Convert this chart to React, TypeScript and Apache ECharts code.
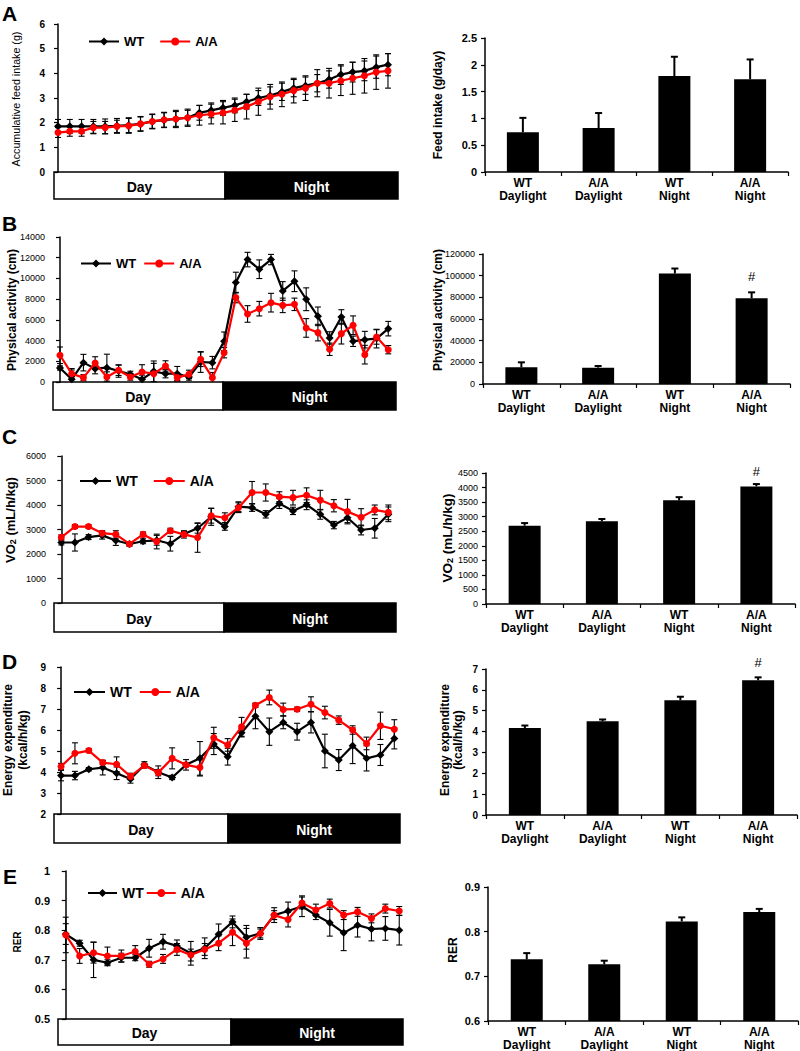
import React, { useEffect, useRef } from 'react';
import * as echarts from 'echarts';

const FONT = '"Liberation Sans", Arial, Helvetica, sans-serif';

// ---------- DATA ----------
// Panel A (time course, 29 points)
const feedWT = [1.85, 1.85, 1.85, 1.85, 1.85, 1.87, 1.9, 1.95, 2.05, 2.1, 2.15, 2.2, 2.4, 2.5, 2.6, 2.7, 2.85, 3.0, 3.1, 3.25, 3.4, 3.5, 3.6, 3.75, 3.95, 4.05, 4.1, 4.25, 4.35];
const feedWTErr = [0.28, 0.28, 0.28, 0.28, 0.3, 0.3, 0.3, 0.28, 0.28, 0.3, 0.3, 0.3, 0.3, 0.3, 0.3, 0.3, 0.3, 0.3, 0.35, 0.35, 0.35, 0.35, 0.35, 0.35, 0.4, 0.4, 0.4, 0.45, 0.45];
const feedAA = [1.6, 1.65, 1.65, 1.8, 1.8, 1.85, 1.87, 1.95, 2.05, 2.12, 2.15, 2.2, 2.3, 2.35, 2.4, 2.5, 2.65, 2.85, 3.05, 3.15, 3.3, 3.4, 3.6, 3.6, 3.7, 3.8, 3.9, 4.05, 4.1];
const feedAAErr = [0.2, 0.2, 0.2, 0.25, 0.25, 0.25, 0.3, 0.3, 0.3, 0.3, 0.35, 0.35, 0.4, 0.4, 0.45, 0.45, 0.5, 0.55, 0.5, 0.5, 0.5, 0.5, 0.55, 0.6, 0.6, 0.65, 0.7, 0.7, 0.7];

// Panel B (29 points)
const activityWT = [1350, 260, 1870, 1290, 1385, 1060, 740, 260, 1030, 800, 800, 480, 1930, 1870, 3930, 9600, 11820, 10890, 11820, 8790, 9730, 7990, 6340, 4250, 6280, 3930, 4090, 4190, 5150];
const activityWTErr = [200, 900, 800, 500, 1300, 600, 300, 400, 1000, 400, 700, 300, 1000, 600, 900, 1000, 700, 900, 500, 900, 1000, 1100, 900, 600, 700, 500, 800, 900, 700];
const activityAA = [2580, 800, 420, 1840, 480, 1130, 480, 970, 800, 1550, 420, 740, 2190, 420, 2830, 8150, 6570, 7080, 7660, 7400, 7500, 5220, 4770, 3160, 4670, 5480, 2640, 4350, 3120];
const activityAAErr = [800, 500, 300, 600, 500, 500, 300, 700, 1000, 500, 300, 400, 700, 500, 500, 500, 800, 700, 900, 700, 600, 900, 800, 600, 1000, 900, 900, 700, 400];

// Panel C (25 points)
const vo2WT = [2470, 2470, 2690, 2760, 2550, 2410, 2520, 2560, 2420, 2820, 3050, 3520, 3120, 3930, 3890, 3620, 4060, 3760, 4010, 3620, 3180, 3480, 2980, 3050, 3620];
const vo2WTErr = [100, 350, 100, 150, 200, 80, 100, 200, 300, 100, 200, 350, 150, 200, 150, 150, 200, 150, 200, 200, 150, 200, 200, 400, 300];
const vo2AA = [2680, 3120, 3120, 2850, 2800, 2410, 2800, 2510, 2950, 2800, 2670, 3560, 3480, 3890, 4510, 4510, 4340, 4300, 4400, 4200, 3970, 3730, 3500, 3800, 3700];
const vo2AAErr = [100, 80, 80, 100, 150, 80, 100, 300, 100, 150, 600, 300, 200, 200, 450, 350, 200, 300, 300, 400, 250, 500, 350, 200, 300];

// Panel D (25 points)
const eeWT = [3.83, 3.83, 4.13, 4.21, 3.94, 3.67, 4.34, 3.99, 3.74, 4.34, 4.65, 5.33, 4.73, 5.87, 6.66, 5.92, 6.36, 5.92, 6.36, 5.0, 4.57, 5.25, 4.65, 4.81, 5.6];
const eeWTErr = [0.25, 0.2, 0.08, 0.35, 0.3, 0.2, 0.15, 0.3, 0.1, 0.1, 0.8, 0.5, 0.4, 0.2, 0.6, 0.65, 0.3, 0.4, 0.5, 0.8, 0.5, 0.85, 0.6, 0.5, 0.5];
const eeAA = [4.26, 4.89, 5.02, 4.45, 4.37, 3.79, 4.31, 3.97, 4.65, 4.34, 4.21, 5.63, 5.29, 6.15, 7.18, 7.55, 6.98, 6.99, 7.23, 6.83, 6.47, 6.0, 5.36, 6.2, 6.04];
const eeAAErr = [0.15, 0.5, 0.1, 0.1, 0.35, 0.15, 0.1, 0.15, 0.5, 0.25, 0.4, 0.5, 0.3, 0.45, 0.1, 0.35, 0.3, 0.1, 0.35, 0.3, 0.2, 0.2, 0.3, 0.65, 0.45];

// Panel E (25 points)
const rerWT = [0.787, 0.756, 0.70, 0.69, 0.707, 0.707, 0.739, 0.761, 0.747, 0.722, 0.739, 0.786, 0.828, 0.776, 0.789, 0.851, 0.865, 0.881, 0.851, 0.825, 0.791, 0.817, 0.804, 0.806, 0.80];
const rerWTErr = [0.035, 0.01, 0.06, 0.01, 0.015, 0.01, 0.03, 0.025, 0.02, 0.04, 0.035, 0.035, 0.02, 0.04, 0.02, 0.025, 0.03, 0.035, 0.015, 0.045, 0.06, 0.04, 0.04, 0.04, 0.05];
const rerAA = [0.784, 0.713, 0.724, 0.713, 0.713, 0.728, 0.685, 0.703, 0.735, 0.716, 0.735, 0.756, 0.793, 0.756, 0.789, 0.851, 0.836, 0.892, 0.868, 0.89, 0.851, 0.862, 0.84, 0.873, 0.865];
const rerAAErr = [0.06, 0.025, 0.035, 0.03, 0.02, 0.02, 0.01, 0.015, 0.02, 0.02, 0.02, 0.025, 0.045, 0.05, 0.015, 0.015, 0.025, 0.02, 0.02, 0.015, 0.015, 0.015, 0.015, 0.015, 0.015];

// Bar panels
const barCategories = ['WT\nDaylight', 'A/A\nDaylight', 'WT\nNight', 'A/A\nNight'];
const feedBar = [0.74, 0.82, 1.79, 1.73];
const feedBarErr = [0.27, 0.28, 0.36, 0.37];
const feedSig = ['', '', '', ''];
const activityBar = [15400, 15100, 102000, 79100];
const activityBarErr = [4600, 1500, 4600, 5500];
const activitySig = ['', '', '', '#'];
const vo2Bar = [2690, 2840, 3560, 4040];
const vo2BarErr = [90, 80, 110, 80];
const vo2Sig = ['', '', '', '#'];
const eeBar = [4.17, 4.49, 5.5, 6.46];
const eeBarErr = [0.12, 0.09, 0.17, 0.14];
const eeSig = ['', '', '', '#'];
const rerBar = [0.738, 0.727, 0.823, 0.844];
const rerBarErr = [0.014, 0.008, 0.009, 0.007];
const rerSig = ['', '', '', ''];

const seriesNames = ['WT', 'A/A'];
const periodLabels = ['Day', 'Night'];
const panelLetters = ['A', 'B', 'C', 'D', 'E'];

// ---------- BUILD ----------
const RED = '#ff0000';

function buildOption() {
  const grid: any[] = [];
  const xAxis: any[] = [];
  const yAxis: any[] = [];
  const series: any[] = [];
  const legend: any[] = [];
  const graphic: any[] = [];

  const plainFmt = (v: number) => String(v);

  const axisName = (x: number, y: number, text: string, size: number, bold: boolean, lineHeight?: number, rich?: any) => {
    graphic.push({
      type: 'text', x, y, rotation: Math.PI / 2, silent: true,
      style: {
        text, fontSize: size, fontWeight: bold ? 'bold' : 'normal', fontFamily: FONT, fill: '#000',
        align: 'center', verticalAlign: 'middle', lineHeight: lineHeight || size * 1.2, rich,
      },
    });
  };

  const errRender = (cap: number, lw: number, oneSided: boolean, floor: number) => (params: any, api: any) => {
    const x = api.value(0), y = api.value(1), e = api.value(2);
    const top = api.coord([x, y + e]);
    const bot = api.coord([x, oneSided ? y : Math.max(y - e, floor)]);
    const style = { stroke: '#000', lineWidth: lw };
    const children: any[] = [
      { type: 'line', shape: { x1: top[0], y1: top[1], x2: bot[0], y2: bot[1] }, style },
      { type: 'line', shape: { x1: top[0] - cap / 2, y1: top[1], x2: top[0] + cap / 2, y2: top[1] }, style },
    ];
    if (!oneSided && y - e > floor) {
      children.push({ type: 'line', shape: { x1: bot[0] - cap / 2, y1: bot[1], x2: bot[0] + cap / 2, y2: bot[1] }, style });
    }
    return { type: 'group', children };
  };

  const yAxisBase = (gi: number, min: number, max: number, iv: number, size: number, bold: boolean, margin: number) => ({
    type: 'value', gridIndex: gi, min, max, interval: iv,
    axisLine: { show: true, lineStyle: { color: '#000', width: 1.5 } },
    axisTick: { show: true, length: 4, inside: false, lineStyle: { color: '#000', width: 1.2 } },
    axisLabel: { color: '#000', fontSize: size, fontWeight: bold ? 'bold' : 'normal', fontFamily: FONT, margin, formatter: plainFmt },
    splitLine: { show: false },
  });

  const addLeft = (c: any) => {
    const gi = grid.length;
    grid.push({ left: c.l, top: c.t, width: c.r - c.l, height: c.b - c.t, containLabel: false, outerBoundsMode: 'none' });
    xAxis.push({ type: 'value', gridIndex: gi, min: c.xmin, max: c.xmax, show: false });
    yAxis.push(yAxisBase(gi, c.ymin, c.ymax, c.iv, c.labelSize, c.bold, 7));
    const toPts = (arr: number[], err: number[]) => arr.map((v, i) => [i, v, err[i]]);
    series.push({
      type: 'custom', name: 'errWT' + gi, xAxisIndex: gi, yAxisIndex: gi, z: 2,
      renderItem: errRender(6, 1.1, false, c.ymin), data: toPts(c.wt, c.wtErr), encode: { x: 0, y: 1 },
    });
    series.push({
      type: 'custom', name: 'errAA' + gi, xAxisIndex: gi, yAxisIndex: gi, z: 2,
      renderItem: errRender(6, 1.1, false, c.ymin), data: toPts(c.aa, c.aaErr), encode: { x: 0, y: 1 },
    });
    series.push({
      type: 'line', name: seriesNames[0], xAxisIndex: gi, yAxisIndex: gi, z: 3,
      data: c.wt.map((v: number, i: number) => [i, v]),
      symbol: 'diamond', symbolSize: 8, showAllSymbol: true,
      lineStyle: { color: '#000', width: 2.2 }, itemStyle: { color: '#000' },
    });
    series.push({
      type: 'line', name: seriesNames[1], xAxisIndex: gi, yAxisIndex: gi, z: 4,
      data: c.aa.map((v: number, i: number) => [i, v]),
      symbol: 'circle', symbolSize: 7, showAllSymbol: true,
      lineStyle: { color: RED, width: 2.2 }, itemStyle: { color: RED },
    });
    legend.push({
      left: c.lg.left, top: c.lg.top, itemWidth: c.lg.itemWidth, itemHeight: 10, itemGap: c.lg.itemGap,
      selectedMode: false, padding: 0, data: seriesNames,
      textStyle: { color: '#000', fontSize: c.lg.fontSize, fontWeight: 'bold', fontFamily: FONT },
    });
    const bx = c.box;
    graphic.push({ type: 'rect', silent: true, shape: { x: bx.x0, y: bx.y0, width: bx.mid - bx.x0, height: bx.y1 - bx.y0 }, style: { fill: '#fff', stroke: '#000', lineWidth: 1.5 } });
    graphic.push({ type: 'rect', silent: true, shape: { x: bx.mid, y: bx.y0, width: bx.x1 - bx.mid, height: bx.y1 - bx.y0 }, style: { fill: '#000', stroke: '#000', lineWidth: 1.5 } });
    graphic.push({ type: 'text', silent: true, x: (bx.x0 + bx.mid) / 2, y: (bx.y0 + bx.y1) / 2 + 1, style: { text: periodLabels[0], fontSize: 14, fontWeight: 'bold', fontFamily: FONT, fill: '#000', align: 'center', verticalAlign: 'middle' } });
    graphic.push({ type: 'text', silent: true, x: (bx.mid + bx.x1) / 2, y: (bx.y0 + bx.y1) / 2 + 1, style: { text: periodLabels[1], fontSize: 14, fontWeight: 'bold', fontFamily: FONT, fill: '#fff', align: 'center', verticalAlign: 'middle' } });
  };

  const addRight = (c: any) => {
    const gi = grid.length;
    grid.push({ left: c.l, top: c.t, width: c.r - c.l, height: c.b - c.t, containLabel: false, outerBoundsMode: 'none' });
    xAxis.push({
      type: 'category', gridIndex: gi, data: barCategories, boundaryGap: true,
      axisLine: { show: true, lineStyle: { color: '#000', width: 1.5 } },
      axisTick: { show: true, length: 4, alignWithLabel: false, lineStyle: { color: '#000', width: 1.2 } },
      axisLabel: { color: '#000', fontSize: 12, fontWeight: 'bold', fontFamily: FONT, margin: 4, lineHeight: 13, interval: 0 },
    });
    yAxis.push(yAxisBase(gi, c.ymin, c.ymax, c.iv, c.labelSize, c.bold, 8));
    series.push({
      type: 'bar', name: 'bar' + gi, xAxisIndex: gi, yAxisIndex: gi, z: 2,
      data: c.vals, barWidth: 32,
      itemStyle: { color: '#000' },
      label: {
        show: true, position: 'top', distance: c.sigDist,
        formatter: (p: any) => c.sig[p.dataIndex],
        color: '#000', fontSize: 13, fontFamily: FONT,
      },
    });
    series.push({
      type: 'custom', name: 'barErr' + gi, xAxisIndex: gi, yAxisIndex: gi, z: 3,
      renderItem: errRender(7, 2, true, c.ymin),
      data: c.vals.map((v: number, i: number) => [i, v, c.err[i]]), encode: { x: 0, y: 1 },
    });
  };

  // Left panels
  addLeft({ wt: feedWT, wtErr: feedWTErr, aa: feedAA, aaErr: feedAAErr, l: 52, t: 24, r: 398, b: 172, ymin: 0, ymax: 6, iv: 1, bold: true, labelSize: 10, xmin: -0.51, xmax: 28.85, box: { x0: 54, x1: 398, mid: 225, y0: 172, y1: 199 }, lg: { left: 88, top: 35, itemWidth: 30, itemGap: 15, fontSize: 13 } });
  addLeft({ wt: activityWT, wtErr: activityWTErr, aa: activityAA, aaErr: activityAAErr, l: 52, t: 237, r: 396, b: 382, ymin: 0, ymax: 14000, iv: 2000, bold: false, labelSize: 9, xmin: -0.68, xmax: 28.66, box: { x0: 53, x1: 396, mid: 223, y0: 382, y1: 410 }, lg: { left: 80, top: 257, itemWidth: 30, itemGap: 7, fontSize: 13 } });
  addLeft({ wt: vo2WT, wtErr: vo2WTErr, aa: vo2AA, aaErr: vo2AAErr, l: 53, t: 456, r: 396, b: 603, ymin: 0, ymax: 6000, iv: 1000, bold: false, labelSize: 9, xmin: -0.61, xmax: 24.56, box: { x0: 54, x1: 396, mid: 224, y0: 603, y1: 632 }, lg: { left: 79, top: 474, itemWidth: 31, itemGap: 15, fontSize: 14 } });
  addLeft({ wt: eeWT, wtErr: eeWTErr, aa: eeAA, aaErr: eeAAErr, l: 53, t: 667, r: 400, b: 814, ymin: 2, ymax: 9, iv: 1, bold: true, labelSize: 10, xmin: -0.58, xmax: 24.41, box: { x0: 54, x1: 400, mid: 228, y0: 814, y1: 843 }, lg: { left: 73, top: 685, itemWidth: 31, itemGap: 7, fontSize: 14 } });
  addLeft({ wt: rerWT, wtErr: rerWTErr, aa: rerAA, aaErr: rerAAErr, l: 57, t: 871, r: 403, b: 1019, ymin: 0.5, ymax: 1, iv: 0.1, bold: true, labelSize: 11, xmin: -0.63, xmax: 24.27, box: { x0: 58, x1: 403, mid: 231, y0: 1019, y1: 1045 }, lg: { left: 87, top: 886, itemWidth: 29, itemGap: 2, fontSize: 14 } });

  // Right panels
  addRight({ vals: feedBar, err: feedBarErr, sig: feedSig, sigDist: 10, l: 485, t: 38, r: 788, b: 172, ymin: 0, ymax: 2.5, iv: 0.5, bold: true, labelSize: 11 });
  addRight({ vals: activityBar, err: activityBarErr, sig: activitySig, sigDist: 15, l: 483, t: 254, r: 790, b: 384, ymin: 0, ymax: 120000, iv: 20000, bold: false, labelSize: 9 });
  addRight({ vals: vo2Bar, err: vo2BarErr, sig: vo2Sig, sigDist: 8, l: 486, t: 473, r: 795, b: 604, ymin: 0, ymax: 4500, iv: 500, bold: false, labelSize: 9 });
  addRight({ vals: eeBar, err: eeBarErr, sig: eeSig, sigDist: 11, l: 486, t: 669, r: 797, b: 815, ymin: 0, ymax: 7, iv: 1, bold: true, labelSize: 10 });
  addRight({ vals: rerBar, err: rerBarErr, sig: rerSig, sigDist: 10, l: 488, t: 887, r: 798, b: 1021, ymin: 0.6, ymax: 0.9, iv: 0.1, bold: true, labelSize: 11 });

  // Axis titles
  const subRich = { sub: { fontSize: 9, fontWeight: 'bold', fontFamily: FONT, fill: '#000', color: '#000', verticalAlign: 'bottom', padding: [6, 0, 0, 0] } };
  axisName(16, 99, 'Accumulative feed intake (g)', 10.7, false);
  axisName(12, 310, 'Physical activity (cm)', 12, true);
  axisName(10, 520, 'VO{sub|2} (mL/h/kg)', 13, true, 15, subRich);
  axisName(15, 740, 'Energy expenditure\n(kcal/h/kg)', 12, true, 15);
  axisName(17, 942, 'RER', 10, true);
  axisName(438, 105, 'Feed intake (g/day)', 12, true);
  axisName(438, 310, 'Physical activity (cm)', 12, true);
  axisName(447, 538, 'VO{sub|2} (mL/h/kg)', 13.5, true, 15, subRich);
  axisName(451, 740, 'Energy expenditure\n(kcal/h/kg)', 12, true, 13);
  axisName(453, 950, 'RER', 12, true);

  // Panel letters
  const letterPos = [[2, 13], [2, 223], [2, 436], [2, 661], [3, 876]];
  panelLetters.forEach((t, i) => {
    graphic.push({ type: 'text', silent: true, x: letterPos[i][0], y: letterPos[i][1], style: { text: t, fontSize: 21, fontWeight: 'bold', fontFamily: FONT, fill: '#000', align: 'left', verticalAlign: 'middle' } });
  });

  return {
    animation: false,
    backgroundColor: '#fff',
    textStyle: { fontFamily: FONT },
    grid, xAxis, yAxis, series, legend, graphic,
  };
}

export default function App() {
  const ref = useRef<HTMLDivElement>(null);
  useEffect(() => {
    if (!ref.current) return;
    const chart = echarts.init(ref.current, null, { renderer: 'svg' });
    chart.setOption(buildOption() as any);
    return () => chart.dispose();
  }, []);
  return <div ref={ref} style={{ position: 'absolute', left: 0, top: 0, width: 800, height: 1051, background: '#fff' }} />;
}
